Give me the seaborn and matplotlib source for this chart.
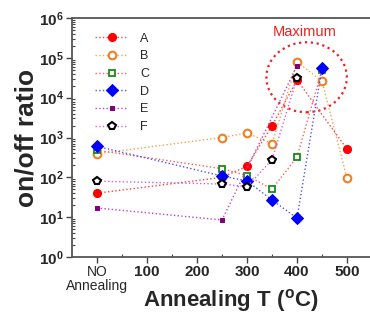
import numpy as np
import pandas as pd
import matplotlib
matplotlib.use('Agg')
import matplotlib.pyplot as plt
import seaborn as sns
from matplotlib.patches import Ellipse
from matplotlib.ticker import LogLocator, NullFormatter, FixedLocator

# Data (0 = no annealing)
a_t = [0, 250, 300, 350, 400, 500]
a_v = [40, 100, 190, 1950, 28000, 510]
b_t = [0, 250, 300, 350, 400, 450, 500]
b_v = [390, 1000, 1300, 690, 79000, 26000, 95]
c_t = [0, 250, 300, 350, 400, 450]
c_v = [480, 165, 110, 51, 320, 50000]
d_t = [0, 250, 300, 350, 400, 450]
d_v = [600, 108, 81, 27, 9.5, 56000]
e_t = [0, 250, 400]
e_v = [17, 8.5, 63000]
f_t = [0, 250, 300, 350, 400]
f_v = [80, 68, 58, 275, 31000]
labels = ['A', 'B', 'C', 'D', 'E', 'F']
x_ticks = [0, 100, 200, 300, 400, 500]
x_ticklabels = ['NO\nAnnealing', '100', '200', '300', '400', '500']

sns.set_style('ticks')
plt.rcParams['font.family'] = ['Liberation Sans', 'DejaVu Sans']
plt.rcParams['mathtext.fontset'] = 'custom'
plt.rcParams['mathtext.rm'] = 'Liberation Sans'
plt.rcParams['mathtext.bf'] = 'Liberation Sans:bold'

fig = plt.figure(figsize=(3.7, 3.14), dpi=100)
ax = fig.add_axes([72 / 370, 57 / 314, 300 / 370, 239 / 314])

series = [(a_t, a_v), (b_t, b_v), (c_t, c_v), (d_t, d_v), (e_t, e_v), (f_t, f_v)]
styles = [
    dict(color='#ff4040', marker='o', ms=5.8, mfc='#ff0000', mec='#ff0000'),
    dict(color='#f5a050', marker='o', ms=5.5, mfc='white', mec='#f08020', mew=1.5),
    dict(color='#f06060', marker='s', ms=4.5, mfc='white', mec='#1a8a1a', mew=1.3),
    dict(color='#5050ff', marker='D', ms=6, mfc='#0000ff', mec='#0000ff'),
    dict(color='#c040d0', marker='s', ms=3.2, mfc='#800080', mec='#800080'),
    dict(color='#d060e0', marker='p', ms=6, mfc='white', mec='black', mew=1.5),
]

for (t, v), lab, st in zip(series, labels, styles):
    df = pd.DataFrame({'T': t, 'ratio': v})
    sns.lineplot(data=df, x='T', y='ratio', ax=ax, label=lab, linestyle=':',
                 lw=1.0, **st)

ax.set_yscale('log')
ax.set_ylim(1, 1e6)
ax.set_xlim(-50, 550)

ax.set_xticks(x_ticks)
ax.set_xticklabels(x_ticklabels)
ax.xaxis.set_minor_locator(FixedLocator([50, 150, 250, 350, 450]))
ax.yaxis.set_major_locator(LogLocator(base=10, numticks=10))
ax.yaxis.set_minor_locator(LogLocator(base=10, subs=np.arange(2, 10), numticks=10))
ax.yaxis.set_minor_formatter(NullFormatter())
ax.set_yticks([10.0 ** k for k in range(7)])
ax.set_yticklabels([r'$\mathbf{10^{%d}}$' % k for k in range(7)])

for lbl in ax.get_xticklabels():
    lbl.set_fontweight('bold')
    lbl.set_fontsize(11)
ax.get_xticklabels()[0].set_fontweight('normal')
ax.get_xticklabels()[0].set_fontsize(10)
ax.get_xticklabels()[0].set_linespacing(0.95)
for lbl in ax.get_yticklabels():
    lbl.set_fontsize(11)

ax.tick_params(which='major', direction='out', length=4, width=1, color='#444444', pad=2)
ax.tick_params(which='minor', direction='in', length=2.5, width=0.8, color='#444444')
for s in ['left', 'bottom', 'top']:
    ax.spines[s].set_color('#555555')
    ax.spines[s].set_linewidth(1.3)
ax.spines['right'].set_visible(False)

ax.set_xlabel(r'Annealing T ($^{\mathbf{o}}$C)', fontsize=16, fontweight='bold')
ax.xaxis.set_label_coords(0.53, -0.125)
ax.set_ylabel('on/off ratio', fontsize=19, fontweight='bold', labelpad=0)

# highlight of the maxima
ax.add_patch(Ellipse((0.782, 0.752), 0.268, 0.293, transform=ax.transAxes,
                     fill=False, ec='#ee2020', ls=':', lw=1.6))
ax.text(0.775, 0.94, 'Maximum', transform=ax.transAxes, color='#ee2020',
        fontsize=10.5, ha='center', va='center')

ax.legend(loc='upper left', bbox_to_anchor=(0.04, 0.985), frameon=False, fontsize=9,
          handlelength=2.6, labelspacing=0.45, handletextpad=1.0)

fig.savefig('out.png', dpi=100)
